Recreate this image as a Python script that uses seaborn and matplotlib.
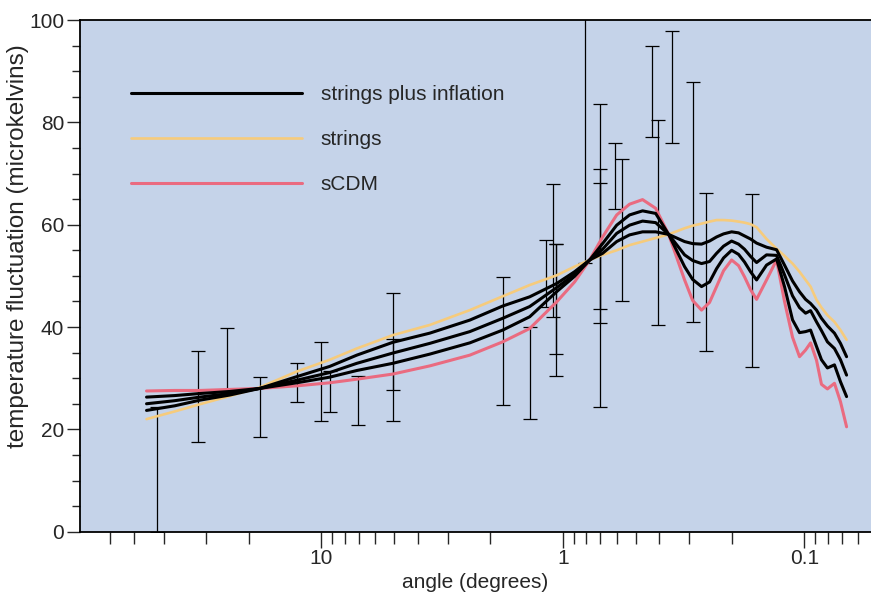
"""
plot.py - CMB temperature fluctuation vs angular scale

Recreates the strings / strings plus inflation / sCDM comparison with
the measured band powers drawn as error bars.
"""

import matplotlib
matplotlib.use("Agg")
import matplotlib.pyplot as plt
import numpy as np
import pandas as pd
import seaborn as sns

# --- model curves (angle in degrees, temperature fluctuation in microkelvins) ---
angle = [53.0, 40.5, 31.9, 24.0, 18.0, 12.65, 9.24, 7.14, 5.07, 3.56,
         2.43, 1.776, 1.373, 1.062, 0.895, 0.775, 0.685, 0.599, 0.530, 0.468,
         0.413, 0.365, 0.3135, 0.2904, 0.2667, 0.2471, 0.2311, 0.2162, 0.2002, 0.1874,
         0.1770, 0.1671, 0.1578, 0.1435, 0.1304,
         0.1209, 0.1120, 0.1048, 0.0989, 0.0943, 0.0891, 0.0850, 0.0803, 0.0751, 0.0709,
         0.0669]

strings = [22.0, 23.5, 24.9, 26.5, 28.2, 31.3, 33.6, 35.8, 38.4, 40.4,
           43.3, 46.0, 48.2, 50.1, 51.8, 53.1, 54.1, 55.0, 56.0, 56.7,
           57.4, 58.1, 59.3, 59.8, 60.2, 60.6, 60.9, 60.9, 60.8, 60.6,
           60.4, 60.1, 59.5, 57.2, 55.3,
           53.9, 52.4, 50.8, 49.2, 47.9, 45.3, 43.8, 42.3, 41.0, 39.4,
           37.5]

# three "strings plus inflation" mixtures, from closest-to-strings to closest-to-sCDM
hybrid_a = [23.7, 24.6, 25.7, 26.7, 28.0, 30.3, 32.3, 34.5, 37.0, 38.8,
            41.35, 44.1, 45.9, 48.5, 50.8, 53.1, 54.4, 56.7, 58.0, 58.6,
            58.6, 58.1, 56.7, 56.3, 56.2, 56.8, 57.6, 58.2, 58.6, 58.4,
            57.8, 57.2, 56.4, 55.6, 55.1,
            52.1, 49.0, 46.9, 45.4, 44.6, 43.3, 41.7, 40.2, 38.8, 36.8,
            34.2]
hybrid_b = [25.0, 25.6, 26.3, 27.0, 28.0, 29.6, 31.1, 32.9, 34.9, 36.8,
            39.1, 41.7, 44.0, 47.7, 50.3, 53.1, 55.2, 58.3, 59.9, 60.7,
            60.4, 58.1, 54.1, 53.0, 52.4, 52.8, 54.4, 55.8, 56.8, 56.2,
            55.2, 53.8, 52.6, 54.1, 54.0,
            50.2, 46.1, 43.8, 42.7, 43.2, 41.0, 39.3, 37.1, 35.8, 33.6,
            30.6]
hybrid_c = [26.3, 26.6, 27.0, 27.4, 28.0, 29.1, 30.2, 31.5, 32.9, 34.7,
            36.9, 39.4, 42.0, 46.9, 49.9, 53.1, 56.3, 59.9, 61.9, 62.7,
            62.2, 58.1, 51.8, 49.3, 47.9, 48.8, 51.4, 53.5, 55.0, 54.2,
            52.7, 50.8, 49.2, 52.1, 53.3,
            47.9, 41.4, 38.9, 39.1, 39.4, 36.2, 33.6, 32.0, 32.6, 29.3,
            26.4]

scdm = [27.5, 27.6, 27.6, 27.8, 28.0, 28.5, 29.1, 29.8, 30.8, 32.4,
        34.5, 37.1, 39.7, 44.9, 48.8, 53.1, 57.6, 61.9, 64.0, 64.9,
        63.2, 58.1, 49.2, 45.2, 43.3, 44.8, 47.9, 51.0, 53.1, 52.0,
        49.8, 47.3, 45.4, 49.2, 53.1,
        45.0, 38.0, 34.2, 35.5, 36.9, 33.5, 28.8, 27.9, 29.0, 25.4,
        20.5]

# --- measurements: angle, lower and upper end of each bar ---
obs_angle = [47.9, 32.4, 24.5, 17.95, 12.57, 10.04, 9.24, 7.03, 5.05, 5.05,
             1.77, 1.364, 1.171, 1.100, 1.065, 1.065, 0.808, 0.705, 0.700, 0.705,
             0.607, 0.570, 0.427, 0.404, 0.354, 0.290, 0.255, 0.1656]
obs_low = [0.0, 17.6, 27.7, 18.5, 25.3, 21.7, 23.3, 20.8, 21.6, 27.6,
           24.7, 22.1, 44.0, 42.0, 30.4, 34.7, 52.6, 43.6, 24.4, 40.8,
           63.0, 45.0, 77.1, 40.3, 76.0, 41.0, 35.4, 32.1]
obs_high = [24.4, 35.4, 39.9, 30.3, 33.0, 37.1, 31.5, 30.4, 46.6, 37.6,
            49.8, 40.0, 57.0, 67.9, 56.2, 56.2, 110.0, 83.6, 70.9, 68.1,
            75.9, 72.9, 95.0, 80.5, 97.9, 87.9, 66.2, 65.9]

x_minor = [75, 60, 45, 30, 20, 9, 8, 7, 6, 5, 4, 3, 2,
           0.9, 0.8, 0.7, 0.6, 0.5, 0.4, 0.3, 0.2, 0.09, 0.08, 0.07, 0.06]

BG = "#c5d3e9"
YELLOW = "#f6cb7c"
RED = "#ea6b80"

sns.set_style("ticks")
plt.rcParams["font.family"] = ["Liberation Sans", "DejaVu Sans"]
plt.rcParams["font.size"] = 15

curves = pd.DataFrame({"angle": angle, "strings": strings, "a": hybrid_a,
                       "b": hybrid_b, "c": hybrid_c, "scdm": scdm})
obs = pd.DataFrame({"angle": obs_angle, "low": obs_low, "high": obs_high})
obs["mid"] = (obs["low"] + obs["high"]) / 2
obs["err"] = (obs["high"] - obs["low"]) / 2

fig = plt.figure(figsize=(8.71, 5.92), dpi=100)
ax = fig.add_axes([0.0918, 0.1019, 0.9082, 0.8643])
ax.set_facecolor(BG)

# error bars first so the model curves sit on top
ax.errorbar(obs["angle"], obs["mid"], yerr=obs["err"], fmt="none",
            ecolor="black", elinewidth=0.9, capsize=5, capthick=0.9, zorder=2)

sns.lineplot(data=curves, x="angle", y="strings", color=YELLOW, lw=1.9,
             sort=False, estimator=None, ax=ax, label="strings", zorder=3)
sns.lineplot(data=curves, x="angle", y="scdm", color=RED, lw=2.2,
             sort=False, estimator=None, ax=ax, label="sCDM", zorder=4)
for col, lab in [("a", "strings plus inflation"), ("b", None), ("c", None)]:
    sns.lineplot(data=curves, x="angle", y=col, color="black", lw=2.2,
                 sort=False, estimator=None, ax=ax, label=lab, zorder=5)

ax.set_xscale("log")
ax.set_xlim(100, 0.053)
ax.set_ylim(0, 100)

ax.set_xticks([10, 1, 0.1])
ax.set_xticklabels(["10", "1", "0.1"])
ax.set_xticks(x_minor, minor=True)
ax.set_xticklabels([], minor=True)
ax.set_yticks([0, 20, 40, 60, 80, 100])
ax.set_yticks(np.arange(0, 101, 5), minor=True)

ax.tick_params(axis="x", which="major", length=11.3, width=1.0, direction="out", pad=1)
ax.tick_params(axis="x", which="minor", length=8.6, width=1.0, direction="out")
ax.tick_params(axis="y", which="major", length=9.4, width=1.0, direction="out", pad=2)
ax.tick_params(axis="y", which="minor", length=5.8, width=1.0, direction="out")

for side in ["left", "bottom", "top"]:
    ax.spines[side].set_color("black")
    ax.spines[side].set_linewidth(1.3)
ax.spines["right"].set_visible(False)

ax.set_xlabel("angle (degrees)", labelpad=4)
ax.set_ylabel("temperature fluctuation (microkelvins)", fontsize=17.5)
ax.yaxis.set_label_coords(-0.064, 0.558)

handles, labels = ax.get_legend_handles_labels()
order = [labels.index(n) for n in ["strings plus inflation", "strings", "sCDM"]]
ax.legend([handles[i] for i in order], [labels[i] for i in order],
          loc="upper left", bbox_to_anchor=(0.0645, 0.873), frameon=False,
          borderpad=0, borderaxespad=0, handlelength=8.2, handletextpad=0.9,
          labelspacing=1.26)

fig.savefig("out.png", dpi=100, facecolor="white")
